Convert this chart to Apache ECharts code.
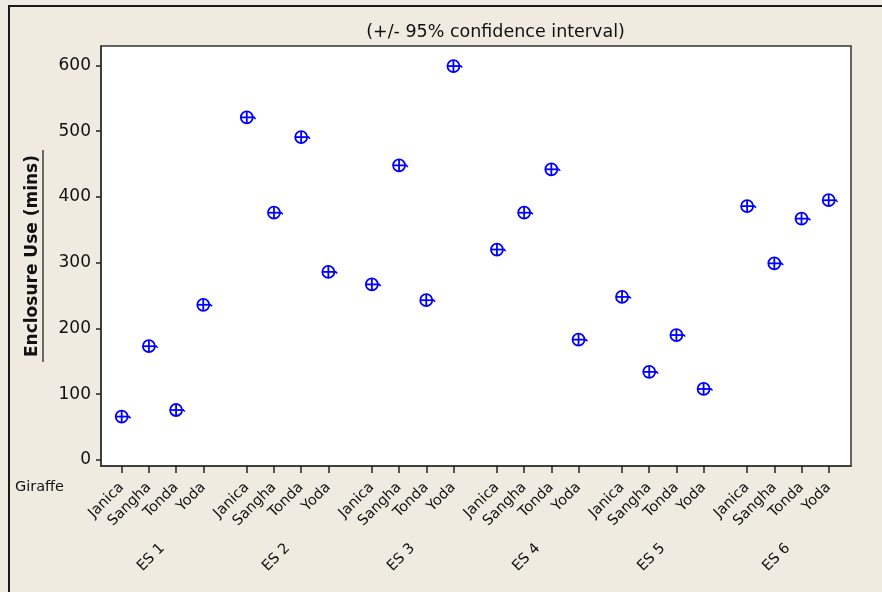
<!DOCTYPE html>
<html><head><meta charset="utf-8">
<script src="https://cdn.jsdelivr.net/npm/echarts@6/dist/echarts.min.js"></script>
<style>html,body{margin:0;padding:0;background:#efebe1}#c{width:882px;height:592px}</style>
</head><body><div id="c"></div>
<script>
// ---- data ----
const groups = ['ES 1', 'ES 2', 'ES 3', 'ES 4', 'ES 5', 'ES 6'];
const giraffes = ['Janica', 'Sangha', 'Tonda', 'Yoda'];
const es1 = [66, 173, 76, 236];
const es2 = [521, 376, 491, 286];
const es3 = [267, 448, 243, 599];
const es4 = [320, 376, 442, 183];
const es5 = [248, 134, 190, 108];
const es6 = [386, 299, 367, 395];
const yTicks = [0, 100, 200, 300, 400, 500, 600];
const titleText = '(+/- 95% confidence interval)';
const yName = 'Enclosure Use (mins)';
const rowLabel = 'Giraffe';

// ---- layout helpers ----
const STRIDE = 4.6; // group spacing in axis units (members 1 apart)
const seriesValues = [es1, es2, es3, es4, es5, es6];
const points = [], tickPos = [], tickNames = [], groupPos = [];
groups.forEach((g, gi) => {
  giraffes.forEach((n, i) => {
    const x = gi * STRIDE + i;
    tickPos.push(x); tickNames.push(n);
    points.push([x, seriesValues[gi][i]]);
  });
  groupPos.push(gi * STRIDE + 1.5);
});
function nameAt(v, pos, names) {
  for (let i = 0; i < pos.length; i++) if (Math.abs(pos[i] - v) < 1e-6) return names[i];
  return '';
}
const FONT = 'DejaVu Sans';
const chart = echarts.init(document.getElementById('c'));
chart.setOption({
  backgroundColor: '#efebe1',
  animation: false,
  grid: { left: 101, right: 31, top: 46, bottom: 126, show: true, backgroundColor: '#ffffff', borderColor: '#333', borderWidth: 1.5 },
  xAxis: [{
    type: 'value', min: -0.761, max: 26.82, position: 'bottom',
    axisLine: { show: true, onZero: false, lineStyle: { color: '#333', width: 1.5 } },
    axisTick: { show: true, length: 7, customValues: tickPos, lineStyle: { color: '#222', width: 1.5 } },
    axisLabel: { show: true, customValues: tickPos, rotate: 45, margin: 19, color: '#111', fontFamily: FONT, fontSize: 14.5,
      formatter: v => nameAt(v, tickPos, tickNames) },
    splitLine: { show: false }
  }, {
    type: 'value', min: -0.761, max: 26.82, position: 'bottom',
    axisLine: { show: false, onZero: false }, axisTick: { show: false },
    axisLabel: { show: true, customValues: groupPos, rotate: 45, margin: 80, color: '#111', fontFamily: FONT, fontSize: 14.5,
      formatter: v => nameAt(v, groupPos, groups) },
    splitLine: { show: false }
  }],
  yAxis: {
    type: 'value', min: -9.13, max: 629.5, position: 'left',
    axisLine: { show: true, onZero: false, lineStyle: { color: '#333', width: 1.5 } },
    axisTick: { show: true, length: 5, customValues: yTicks, lineStyle: { color: '#222', width: 1.5 } },
    axisLabel: { show: true, customValues: yTicks, margin: 10, color: '#111', fontFamily: FONT, fontSize: 17 },
    splitLine: { show: false }
  },
  graphic: [
    { type: 'rect', shape: { x: 9, y: 6, width: 900, height: 620 }, style: { fill: 'none', stroke: '#1a1a1a', lineWidth: 2 }, silent: true },
    { type: 'text', x: 495.5, y: 32, style: { text: titleText, fontFamily: FONT, fontSize: 17.5, fill: '#111', align: 'center', verticalAlign: 'middle' } },
    { type: 'text', x: 33, y: 256, rotation: Math.PI / 2, style: { text: yName, fontFamily: FONT, fontSize: 17, fontWeight: 'bold', fill: '#111', align: 'center', verticalAlign: 'middle' } },
    { type: 'line', shape: { x1: 43, y1: 150, x2: 43, y2: 362 }, style: { stroke: '#111', lineWidth: 1.2 } },
    { type: 'text', x: 15, y: 487, style: { text: rowLabel, fontFamily: FONT, fontSize: 14.5, fill: '#111', align: 'left', verticalAlign: 'middle' } }
  ],
  series: [{
    type: 'custom', xAxisIndex: 0, yAxisIndex: 0, data: points, clip: false,
    renderItem: function (params, api) {
      const p = api.coord([api.value(0), api.value(1)]);
      const r = 6, c = '#0000ff', w = 1.8;
      return { type: 'group', children: [
        { type: 'circle', shape: { cx: p[0], cy: p[1], r: r }, style: { fill: 'none', stroke: c, lineWidth: w } },
        { type: 'line', shape: { x1: p[0] - r, y1: p[1], x2: p[0] + r + 2, y2: p[1] }, style: { stroke: c, lineWidth: w } },
        { type: 'line', shape: { x1: p[0], y1: p[1] - r, x2: p[0], y2: p[1] + r }, style: { stroke: c, lineWidth: w } },
        { type: 'line', shape: { x1: p[0] + r + 1, y1: p[1], x2: p[0] + r + 3, y2: p[1] + 1.5 }, style: { stroke: c, lineWidth: 1.4 } }
      ] };
    }
  }]
});
</script></body></html>
